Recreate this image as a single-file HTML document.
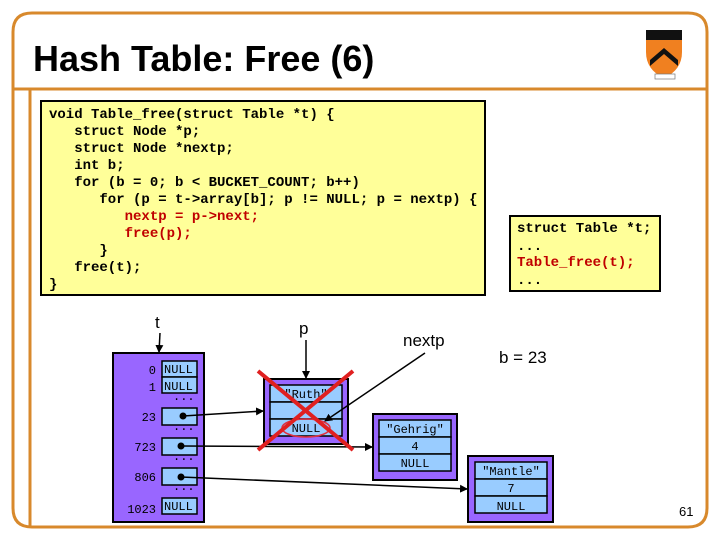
<!DOCTYPE html>
<html><head><meta charset="utf-8"><style>
html,body{margin:0;padding:0;background:#fff;}
svg{display:block;}
.c{font-family:"Liberation Mono",monospace;font-size:14px;font-weight:bold;white-space:pre;}
.m{font-family:"Liberation Mono",monospace;font-size:12px;}
.s{font-family:"Liberation Sans",sans-serif;}
</style></head><body>
<svg width="720" height="540" viewBox="0 0 720 540" xmlns="http://www.w3.org/2000/svg">
<defs><marker id="a" markerWidth="8" markerHeight="8" refX="7" refY="4" orient="auto" markerUnits="userSpaceOnUse"><path d="M0,0 L8,4 L0,8 z" fill="#000"/></marker></defs>
<path d="M32,13 H688 Q707,13 707,32 V508 Q707,527 688,527 H32 Q13,527 13,508 V32 Q13,13 32,13 Z" fill="none" stroke="#d8892c" stroke-width="3"/>
<line x1="13" y1="89" x2="707" y2="89" stroke="#d8892c" stroke-width="3"/>
<line x1="30" y1="89" x2="30" y2="527" stroke="#d8892c" stroke-width="3"/>
<text x="33" y="71" class="s" font-size="36" font-weight="bold">Hash Table: Free (6)</text>
<path d="M646,30 H682 V52 Q682,70 664,78 Q646,70 646,52 Z" fill="#f08020"/>
<rect x="646" y="30" width="36" height="10" fill="#111"/>
<path d="M650,60 L664,48 L678,60 L678,66 L664,54 L650,66 Z" fill="#111"/>
<rect x="655" y="74" width="20" height="5" fill="#fff" stroke="#777" stroke-width="0.7"/>
<rect x="41" y="101" width="444" height="194" fill="#ffff99" stroke="#000" stroke-width="2"/>
<text class="c" x="49" y="118">void Table_free(struct Table *t) {</text>
<text class="c" x="49" y="135">   struct Node *p;</text>
<text class="c" x="49" y="152">   struct Node *nextp;</text>
<text class="c" x="49" y="169">   int b;</text>
<text class="c" x="49" y="186">   for (b = 0; b &lt; BUCKET_COUNT; b++)</text>
<text class="c" x="49" y="203">      for (p = t-&gt;array[b]; p != NULL; p = nextp) {</text>
<text class="c" x="49" y="220" fill="#c00000">         nextp = p-&gt;next;</text>
<text class="c" x="49" y="237" fill="#c00000">         free(p);</text>
<text class="c" x="49" y="254">      }</text>
<text class="c" x="49" y="271">   free(t);</text>
<text class="c" x="49" y="288">}</text>
<rect x="510" y="216" width="150" height="75" fill="#ffff99" stroke="#000" stroke-width="2"/>
<text class="c" x="517" y="232" font-size="13">struct Table *t;</text>
<text class="c" x="517" y="250" font-size="10" font-weight="normal">...</text>
<text class="c" x="517" y="266" font-size="13" fill="#c00000">Table_free(t);</text>
<text class="c" x="517" y="284" font-size="10" font-weight="normal">...</text>
<text x="155" y="328" class="s" font-size="17">t</text>
<text x="299" y="334" class="s" font-size="17">p</text>
<text x="403" y="346" class="s" font-size="17">nextp</text>
<text x="499" y="363" class="s" font-size="17">b = 23</text>
<text x="679" y="516" class="s" font-size="13">61</text>
<rect x="113" y="353" width="91" height="169" fill="#9966ff" stroke="#000" stroke-width="2"/>
<g fill="#99ccff" stroke="#000" stroke-width="1.5">
<rect x="162" y="361" width="35" height="16"/><rect x="162" y="377" width="35" height="16"/>
<rect x="162" y="408" width="35" height="17"/><rect x="162" y="438" width="35" height="17"/>
<rect x="162" y="468" width="35" height="17"/><rect x="162" y="498" width="35" height="16"/>
</g>
<g class="m" text-anchor="end" font-size="13">
<text x="156" y="374">0</text><text x="156" y="391">1</text><text x="156" y="421">23</text>
<text x="156" y="451">723</text><text x="156" y="481">806</text><text x="156" y="513">1023</text>
</g>
<g class="m" font-size="11"><text x="164" y="373">NULL</text><text x="164" y="390">NULL</text><text x="164" y="510">NULL</text></g>
<g class="m" font-size="8"><text x="173" y="400">...</text><text x="173" y="430">...</text><text x="173" y="460">...</text><text x="173" y="490">...</text></g>
<g stroke="#000" stroke-width="2"><rect x="264" y="379" width="84" height="65" fill="#9966ff"/><rect x="373" y="414" width="84" height="66" fill="#9966ff"/><rect x="468" y="456" width="85" height="66" fill="#9966ff"/></g>
<g fill="#99ccff" stroke="#000" stroke-width="1.5">
<rect x="270" y="385" width="72" height="17"/><rect x="270" y="402" width="72" height="17"/><rect x="270" y="419" width="72" height="17"/>
<rect x="379" y="420" width="72" height="17"/><rect x="379" y="437" width="72" height="17"/><rect x="379" y="454" width="72" height="17"/>
<rect x="475" y="462" width="72" height="17"/><rect x="475" y="479" width="72" height="17"/><rect x="475" y="496" width="72" height="17"/>
</g>
<g class="m" text-anchor="middle">
<text x="306" y="398">"Ruth"</text><text x="306" y="432">NULL</text>
<text x="415" y="433">"Gehrig"</text><text x="415" y="450">4</text><text x="415" y="467">NULL</text>
<text x="511" y="475">"Mantle"</text><text x="511" y="492">7</text><text x="511" y="510">NULL</text>
</g>
<ellipse cx="306" cy="428" rx="24" ry="9" fill="none" stroke="#e03040" stroke-width="1.5"/>
<g stroke="#000" stroke-width="1.5" fill="none" marker-end="url(#a)">
<line x1="160" y1="333" x2="159" y2="352"/>
<line x1="306" y1="340" x2="306" y2="378"/>
<line x1="425" y1="353" x2="325" y2="421"/>
<line x1="183" y1="416" x2="263" y2="411"/>
<line x1="181" y1="446" x2="372" y2="447"/>
<line x1="181" y1="477" x2="467" y2="489"/>
</g>
<g fill="#000"><circle cx="183" cy="416" r="3.5"/><circle cx="181" cy="446" r="3.5"/><circle cx="181" cy="477" r="3.5"/></g>
<g stroke="#e02020" stroke-width="4"><line x1="258" y1="371" x2="353" y2="450"/><line x1="353" y1="371" x2="258" y2="450"/></g>
</svg>
</body></html>
